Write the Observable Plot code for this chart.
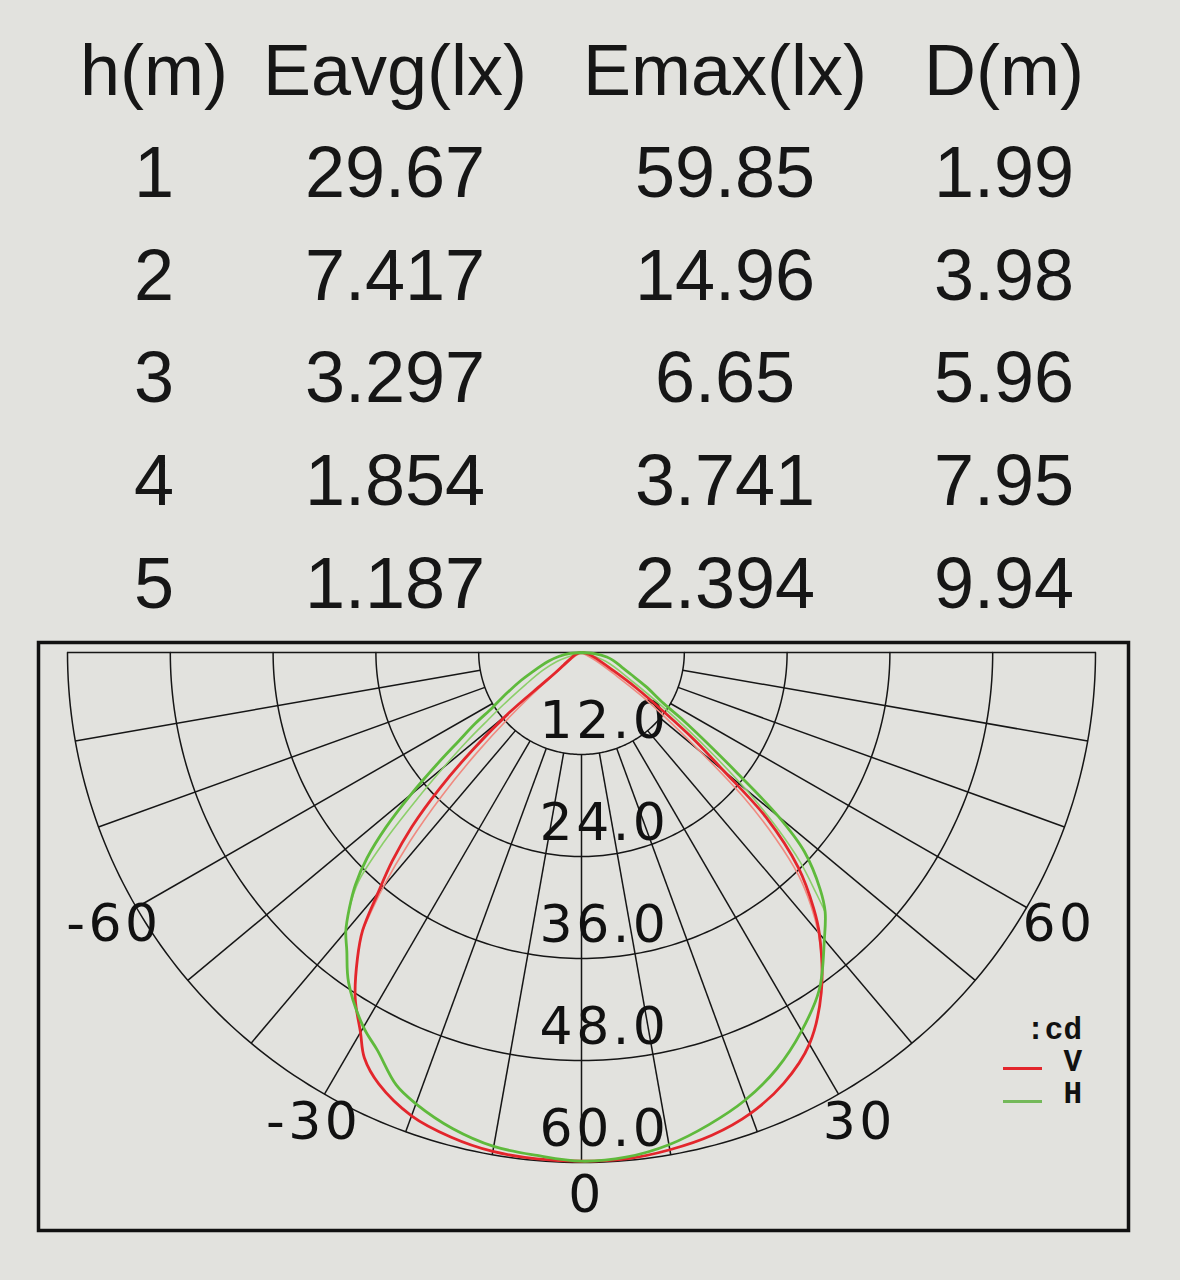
<!DOCTYPE html>
<html>
<head>
<meta charset="utf-8">
<script src="https://cdn.jsdelivr.net/npm/d3@7"></script>
<script src="https://cdn.jsdelivr.net/npm/@observablehq/plot@0.6"></script>
<style>
  html, body { margin: 0; padding: 0; }
  body { width: 1180px; height: 1280px; background: #e2e2de; position: relative; overflow: hidden;
         font-family: "Liberation Sans", Arial, sans-serif; }
  .cell { position: absolute; font-size: 72px; line-height: 72px; color: #161616;
          transform: translateX(-50%); white-space: nowrap; }
  #chart { position: absolute; left: 0; top: 636px; }
  .lg { position: absolute; font-family: "Liberation Mono", monospace; font-weight: bold;
        font-size: 31px; line-height: 30px; color: #111; white-space: nowrap; }
  .lgline { position: absolute; height: 3px; width: 39px; }
</style>
</head>
<body>
<div id="table"></div>
<div id="chart"></div>
<div id="legend"></div>
<script>
// ---------------- data ----------------
const headers = ["h(m)", "Eavg(lx)", "Emax(lx)", "D(m)"];
const heights = ["1", "2", "3", "4", "5"];
const eavg = ["29.67", "7.417", "3.297", "1.854", "1.187"];
const emax = ["59.85", "14.96", "6.65", "3.741", "2.394"];
const dist = ["1.99", "3.98", "5.96", "7.95", "9.94"];

// polar grid
const rings = [12, 24, 36, 48, 60];          // cd
const angleTicks = [-60, -30, 0, 30, 60];    // degrees
const seriesNames = ["V", "H"];
const unitLabel = ":cd";

// luminous intensity curves (cd) by angle (deg, 0 = straight down)
const vAngles = [-90, -80, -70, -60, -55, -52, -51, -50, -48, -46, -44, -42, -40, -38, -36, -33, -30, -28, -25, -20, -15, -10, -5,
                 0, 5, 10, 15, 20, 25, 30, 35, 40, 42, 45, 48, 50, 52, 54, 57, 60, 70, 80, 90];
const vValues = [0, 0.3, 0.8, 1.5, 2.5, 4, 6, 11, 17, 23, 28.5, 33, 37, 41.5, 44.5, 48.5, 51.6, 54, 56, 58, 59, 59.6, 59.8,
                 59.85, 59.8, 59.4, 58.8, 57.7, 55.9, 53.2, 48.8, 43.2, 40.5, 35.8, 29, 21.7, 16.8, 12, 7.5, 4.5, 1.5, 0.5, 0];

const hAngles = [-90, -85, -80, -75, -68, -65, -60, -58, -56, -54, -52, -50, -48, -46, -44, -42, -40, -38, -35, -30, -27, -23, -20, -15, -10, -5,
                 0, 5, 10, 15, 20, 25, 30, 35, 40, 43, 45, 48, 50, 52, 54, 56, 58, 62, 66, 70, 76, 80, 85, 90];
const hValues = [0, 1.3, 2.7, 4, 6.3, 7.8, 10.8, 12.3, 15, 17.7, 21.5, 26, 30.7, 34.8, 38, 40.5, 42.8, 44.5, 47.4, 50.9, 52.5, 55.3, 56.5, 58, 59, 59.4,
                 59.85, 59.6, 58.8, 57.5, 56, 54, 51.4, 48.4, 44.1, 41.7, 39.4, 35, 30, 23.2, 18.2, 14.5, 11.3, 8.5, 6.3, 5, 3.8, 3, 1.5, 0];

// second half-planes (thin inner traces near the top)
const v2Angles = [-90, -60, -54, -52, -50, -48, -46, -44, -42, -40, -38,
                  38, 40, 42, 44, 46, 48, 50, 52, 54, 56, 60, 90];
const v2Values = [0, 1, 2, 3, 6, 11, 17, 23.5, 30, 36, 41.5,
                  45.5, 43, 40, 36.5, 31.5, 25.5, 18, 12.5, 8.5, 5, 2, 0];
const h2Angles = [-90, -70, -65, -60, -56, -54, -52, -50, -48, -46, -44, -42,
                  43, 44, 46, 48, 50, 52, 54, 56, 60, 70, 90];
const h2Values = [0, 3, 5, 7.5, 11, 13.5, 17, 21, 26, 32, 37.5, 40.5,
                  41.7, 39.5, 35.5, 30.5, 25, 19.5, 15, 11.5, 7, 3, 0];

// ---------------- table ----------------
const colX = [154, 395, 725, 1004];
const baselines = [94, 196, 298.5, 401, 504, 606.5];
const tableEl = document.getElementById("table");
const rows = [headers, ...heights.map((h, i) => [h, eavg[i], emax[i], dist[i]])];
rows.forEach((row, i) => {
  row.forEach((txt, j) => {
    const d = document.createElement("div");
    d.className = "cell";
    d.textContent = txt;
    d.style.left = colX[j] + "px";
    d.style.top = (baselines[i] - 60) + "px";
    tableEl.appendChild(d);
  });
});

// ---------------- polar diagram ----------------
const rad = d => d * Math.PI / 180;
const toXY = (a, r) => ({x: r * Math.sin(rad(a)), y: r * Math.cos(rad(a))});

const ringPts = rings.flatMap(r => d3.range(-90, 90.5, 1).map(a => ({ring: r, ...toXY(a, r)})));
const rMax = rings[rings.length - 1];
const spokes = d3.range(-80, 81, 10).map(a => {
  const p1 = toXY(a, rings[0]), p2 = toXY(a, rMax);
  return {x1: p1.x, y1: p1.y, x2: p2.x, y2: p2.y};
});
const topLine = [{x1: -rMax, y1: 0, x2: rMax, y2: 0}];

const pts = (angles, values) => angles.map((a, i) => toXY(a, values[i]));
const vPts = pts(vAngles, vValues);
const hPts = pts(hAngles, hValues);
// split the secondary traces at the gap between the two sides
const splitSides = (angles, values) => {
  const L = [], R = [];
  angles.forEach((a, i) => (a < 0 ? L : R).push(toXY(a, values[i])));
  return [L.map(p => ({...p, side: "L"})), R.map(p => ({...p, side: "R"}))].flat();
};
const v2Pts = splitSides(v2Angles, v2Values);
const h2Pts = splitSides(h2Angles, h2Values);

const gridColor = "#161616";
const labelFont = "DejaVu Sans, Verdana, sans-serif";
const red = "#e3262c", green = "#5fba3c";

const chart = Plot.plot({
  width: 1180,
  height: 644,
  marginLeft: 38,
  marginRight: 52,
  marginTop: 6,
  marginBottom: 50,
  x: {domain: [-60, 60], range: [67, 1095], axis: null},
  y: {domain: [0, 60], range: [16, 526], axis: null},
  style: {background: "#e2e2de", fontFamily: labelFont, letterSpacing: "3.5px", overflow: "visible"},
  marks: [
    Plot.frame({stroke: "#111", strokeWidth: 3.5}),
    Plot.line(ringPts, {x: "x", y: "y", z: "ring", stroke: gridColor, strokeWidth: 1.5}),
    Plot.link(spokes, {x1: "x1", y1: "y1", x2: "x2", y2: "y2", stroke: gridColor, strokeWidth: 1.5}),
    Plot.link(topLine, {x1: "x1", y1: "y1", x2: "x2", y2: "y2", stroke: gridColor, strokeWidth: 1.5}),
    Plot.text(rings, {x: 0, y: d => d, text: d => d.toFixed(1), dx: 23, dy: -33, lineAnchor: "middle",
                      fontSize: 52, fill: "#111"}),
    Plot.text(angleTicks, {x: a => toXY(a, 63.7).x, y: a => toXY(a, 63.7).y, text: a => String(a), dx: 5, dy: 1,
                           lineAnchor: "middle", fontSize: 52, fill: "#111"}),
    Plot.line(v2Pts, {x: "x", y: "y", z: "side", stroke: "#f08a80", strokeWidth: 1.6, curve: "catmull-rom"}),
    Plot.line(h2Pts, {x: "x", y: "y", z: "side", stroke: "#8ccf6a", strokeWidth: 1.6, curve: "catmull-rom"}),
    Plot.line(vPts, {x: "x", y: "y", stroke: red, strokeWidth: 2.8, curve: "catmull-rom"}),
    Plot.line(hPts, {x: "x", y: "y", stroke: green, strokeWidth: 2.8, curve: "catmull-rom"})
  ]
});
document.getElementById("chart").appendChild(chart);

// ---------------- legend ----------------
const lg = document.getElementById("legend");
function addText(txt, right, top) {
  const d = document.createElement("div");
  d.className = "lg"; d.textContent = txt;
  d.style.right = right + "px"; d.style.top = top + "px";
  lg.appendChild(d);
}
function addLine(color, left, top) {
  const d = document.createElement("div");
  d.className = "lgline"; d.style.background = color;
  d.style.left = left + "px"; d.style.top = top + "px";
  lg.appendChild(d);
}
addText(unitLabel, 98, 1016);
addText(seriesNames[0], 98, 1048);
addText(seriesNames[1], 98, 1080);
addLine(red, 1003, 1066.5);
addLine("#74b95a", 1003, 1099.5);
</script>
</body>
</html>
